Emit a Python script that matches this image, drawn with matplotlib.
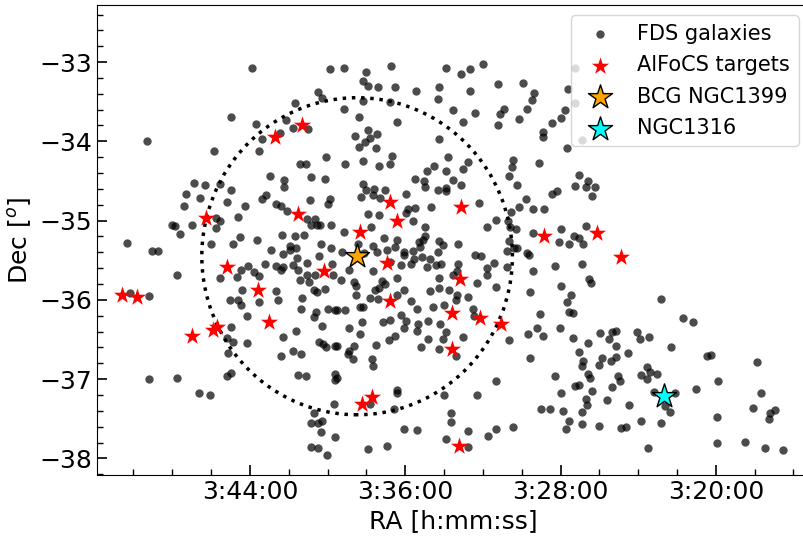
import numpy as np
import matplotlib.pyplot as plt
from matplotlib.patches import Circle
from matplotlib.ticker import MultipleLocator, FuncFormatter

# FDS galaxies (RA, Dec in degrees)
ra_fds = [
    55.97, 54.97, 55.12, 55.07, 55.42, 56.25, 55.54, 55.92, 55.44, 55.25,
    55.61, 55.84, 57.32, 56.46, 55.88, 55.02, 55.35, 55.28, 54.79, 54.51,
    54.18, 53.47, 53.28, 53.17, 53.00, 54.54, 54.48, 54.35, 54.13, 53.86,
    53.56, 53.58, 53.16, 52.80, 52.48, 52.34, 52.37, 52.43, 54.79, 54.54,
    54.20, 54.59, 54.11, 53.39, 53.26, 53.10, 52.73, 52.78, 52.54, 52.80,
    51.94, 52.00, 52.11, 52.22, 52.22, 51.92, 51.90, 54.48, 54.65, 54.37,
    54.45, 54.52, 54.59, 54.38, 53.56, 54.17, 53.45, 54.77, 54.55, 54.34,
    54.20, 53.63, 53.19, 52.61, 52.28, 51.82, 51.82, 51.72, 55.74, 55.56,
    55.56, 55.21, 55.03, 56.72, 56.58, 56.38, 56.25, 56.82, 56.64, 56.85,
    56.30, 56.07, 55.84, 55.79, 55.67, 55.60, 55.52, 55.23, 54.97, 55.00,
    56.44, 56.38, 56.44, 56.15, 57.00, 56.96, 56.75, 56.90, 56.50, 56.22,
    56.13, 55.91, 55.59, 55.42, 55.30, 55.26, 55.16, 55.14, 55.21, 55.10,
    54.95, 57.59, 57.26, 57.18, 55.73, 55.58, 55.49, 55.48, 55.41, 55.39,
    55.09, 54.96, 55.11, 55.80, 55.67, 55.58, 55.60, 55.45, 55.38, 55.27,
    54.94, 56.94, 56.39, 56.17, 56.12, 56.03, 55.95, 55.89, 55.27, 55.36,
    55.24, 55.16, 55.14, 55.17, 55.03, 54.93, 57.55, 57.30, 56.10, 55.66,
    55.64, 56.26, 56.16, 56.12, 55.88, 55.33, 55.34, 55.15, 55.18, 55.00,
    54.90, 56.04, 56.25, 55.07, 55.41, 55.58, 56.29, 56.22, 56.04, 55.11,
    55.06, 55.02, 54.91, 55.45, 55.34, 56.28, 55.60, 56.24, 56.30, 55.38,
    55.28, 54.91, 54.90, 57.30, 56.94, 56.65, 56.52, 54.92, 55.18, 55.22,
    55.13, 55.07, 55.08, 54.91, 55.22, 55.13, 55.01, 53.72, 53.48, 53.25,
    52.62, 53.87, 53.76, 53.75, 53.38, 53.28, 53.58, 53.48, 53.48, 52.66,
    52.56, 54.54, 54.50, 54.40, 54.26, 54.42, 54.33, 54.57, 53.99, 53.67,
    53.88, 53.96, 53.99, 54.48, 54.34, 53.90, 53.05, 52.54, 52.64, 52.45,
    52.35, 52.21, 52.11, 52.04, 51.81, 52.83, 52.95, 52.68, 52.65, 52.57,
    53.74, 54.79, 54.44, 54.28, 54.11, 53.82, 53.74, 53.77, 53.81, 53.56,
    53.52, 53.32, 52.66, 52.60, 52.36, 51.99, 52.02, 51.89, 51.83, 54.61,
    54.42, 54.36, 54.24, 54.13, 54.02, 54.01, 54.81, 54.53, 53.90, 53.78,
    53.58, 53.89, 53.68, 53.10, 53.02, 52.69, 52.56, 52.43, 52.41, 52.86,
    52.69, 53.32, 52.07, 53.93, 53.54, 53.61, 53.72, 54.06, 54.19, 54.72,
    54.83, 54.66, 54.41, 54.10, 53.56, 53.38, 53.33, 52.95, 52.95, 53.08,
    52.36, 51.99, 51.86, 52.39, 52.83, 54.30, 54.26, 54.34, 54.64, 54.64,
    54.39, 54.02, 54.11, 53.68, 53.56, 53.44, 53.33, 53.35, 53.19, 53.93,
    53.64, 53.50, 54.45, 54.35, 54.77, 54.55, 54.58, 54.88, 53.85, 54.05,
    53.13, 53.11, 52.27, 51.92, 51.89, 51.84, 54.56, 54.29, 54.19, 53.99,
    53.83, 53.71, 53.55, 54.73, 54.58, 54.02, 53.85, 53.48, 53.71, 53.51,
    53.26, 54.13, 54.21, 54.38, 54.66, 54.88, 54.72, 54.74, 54.67, 54.43,
    54.41, 53.80, 53.56, 53.34, 52.66, 52.42, 52.30, 52.23, 52.01, 51.84,
    52.39, 52.07, 51.81, 51.99, 52.83, 53.07, 53.50, 54.11, 54.10, 54.88,
    54.46, 54.15, 53.41, 53.41, 52.25, 52.14, 51.97, 51.89, 51.93,
    52.61, 52.83, 52.94, 53.19, 53.19, 53.48, 54.01, 53.85, 54.23, 54.48,
    51.49, 51.34, 51.28, 51.37, 51.02, 50.98, 50.86,
    50.58, 51.64, 51.28, 51.76, 51.13, 51.28, 51.47, 51.35, 51.71, 51.72, 51.50,
    50.12, 50.06, 49.47, 50.88, 50.85, 50.76, 50.97, 50.88, 51.26, 51.24,
    51.64, 51.62, 51.76, 51.34, 51.60, 50.26, 49.97, 49.42, 50.80, 50.53,
    51.67, 51.66, 51.40, 51.12, 50.66, 50.59, 51.72, 49.52, 49.24, 49.30,
    49.31, 49.99, 51.73, 51.50, 51.22, 51.16, 50.97, 50.71, 50.87, 49.98,
    49.63, 49.37, 49.14, 51.76, 51.65, 51.67, 51.55, 51.59, 51.67, 51.76,
    51.71, 51.72, 51.63, 51.61, 50.71, 50.42, 50.30,
]
dec_fds = [
    -33.08, -33.09, -33.38, -33.45, -33.52, -33.69, -33.73, -33.78, -33.83, -33.85,
    -33.90, -33.97, -33.99, -34.12, -34.12, -34.20, -34.28, -34.29, -33.07, -33.12,
    -33.05, -33.08, -33.15, -33.09, -33.03, -33.24, -33.30, -33.32, -33.31, -33.37,
    -33.32, -33.46, -33.37, -33.28, -33.26, -33.39, -33.48, -33.59, -33.59, -33.49,
    -33.50, -33.69, -33.75, -33.61, -33.75, -33.64, -33.59, -33.66, -33.72, -33.80,
    -33.60, -33.70, -33.77, -33.88, -33.94, -34.09, -33.34, -33.86, -33.93, -33.91,
    -33.96, -34.01, -34.07, -34.09, -33.97, -34.19, -34.20, -34.28, -34.25, -34.31,
    -34.29, -34.31, -34.26, -34.23, -34.27, -33.07, -33.52, -33.98, -34.44, -34.49,
    -34.57, -34.45, -34.48, -34.52, -34.55, -34.54, -34.62, -34.67, -34.72, -34.81,
    -34.77, -34.81, -34.73, -34.68, -34.79, -34.82, -34.88, -34.74, -34.73, -34.79,
    -34.97, -35.01, -35.09, -34.96, -35.05, -35.07, -35.05, -35.17, -35.29, -35.30,
    -35.21, -35.25, -35.18, -35.20, -35.18, -34.98, -34.98, -35.05, -35.05, -35.05,
    -35.05, -35.28, -35.38, -35.38, -35.37, -35.42, -35.32, -35.37, -35.35, -35.47,
    -35.30, -35.35, -35.45, -35.55, -35.57, -35.59, -35.62, -35.56, -35.62, -35.54,
    -35.55, -35.69, -35.72, -35.71, -35.62, -35.57, -35.65, -35.70, -35.69, -35.75,
    -35.77, -35.69, -35.90, -35.87, -35.86, -35.69, -35.91, -35.95, -35.88, -35.89,
    -36.00, -36.00, -36.00, -36.06, -36.03, -35.98, -36.11, -36.15, -36.22, -36.11,
    -36.13, -36.20, -36.34, -36.33, -36.39, -36.47, -36.48, -36.53, -36.55, -36.53,
    -36.56, -36.59, -36.58, -36.65, -36.68, -36.67, -36.71, -36.92, -36.96, -36.95,
    -36.96, -36.94, -37.01, -37.00, -36.98, -37.18, -37.20, -37.31, -37.43, -37.55,
    -37.55, -37.53, -37.67, -37.73, -37.86, -37.87, -37.96, -34.38, -34.37, -34.35,
    -34.32, -34.48, -34.50, -34.57, -34.49, -34.55, -34.62, -34.59, -34.63, -34.44,
    -34.55, -34.54, -34.61, -34.60, -34.62, -34.68, -34.72, -34.70, -34.66, -34.83,
    -34.84, -34.86, -34.91, -34.92, -34.93, -35.01, -34.78, -34.83, -34.89, -34.73,
    -34.86, -34.86, -34.67, -34.63, -34.56, -34.99, -35.08, -35.00, -35.08, -35.10,
    -35.08, -35.15, -35.08, -35.22, -35.24, -35.27, -35.20, -35.24, -35.33, -35.26,
    -35.31, -35.29, -35.26, -35.34, -35.16, -35.11, -35.27, -35.29, -35.20, -35.29,
    -35.32, -35.40, -35.37, -35.33, -35.40, -35.43, -35.40, -35.41, -35.38, -35.46,
    -35.40, -35.49, -35.48, -35.43, -35.45, -35.38, -35.34, -35.41, -35.43, -35.53,
    -35.58, -35.55, -35.57, -35.55, -35.55, -35.56, -35.59, -35.56, -35.52, -35.62,
    -35.75, -35.77, -35.63, -35.73, -35.73, -35.69, -35.64, -35.60, -35.69, -35.79,
    -35.63, -35.83, -35.94, -35.90, -35.84, -35.76, -35.80, -35.85, -35.83, -35.94,
    -35.87, -35.87, -35.94, -35.89, -35.85, -35.87, -35.94, -36.00, -35.97, -36.02,
    -36.09, -36.06, -35.98, -35.99, -36.13, -36.09, -36.09, -36.13, -36.11, -36.19,
    -36.11, -36.20, -36.18, -36.03, -36.15, -36.17, -36.28, -36.28, -36.25, -36.27,
    -36.30, -36.27, -36.30, -36.36, -36.43, -36.36, -36.39, -36.41, -36.49, -36.49,
    -36.47, -36.45, -36.51, -36.57, -36.58, -36.58, -36.64, -36.68, -36.75, -36.75,
    -36.83, -36.60, -36.62, -36.71, -36.51, -36.43, -36.36, -36.46, -36.36, -36.48,
    -36.73, -36.96, -37.09, -37.18, -37.02, -37.20, -37.20, -37.14, -37.18, -36.99,
    -37.31, -37.38, -37.43, -37.54, -37.38, -37.38, -37.40, -37.53, -37.63,
    -37.61, -37.63, -37.72, -37.66, -37.86, -37.76, -37.63, -37.64, -37.84, -37.88,
    -36.42, -36.40, -36.39, -36.50, -36.41, -36.49, -36.47,
    -36.60, -36.55, -36.58, -36.66, -36.67, -36.72, -36.73, -36.77, -36.77, -36.83, -36.82,
    -36.71, -36.70, -36.79, -36.85, -36.91, -36.93, -36.95, -37.00, -36.96, -37.03,
    -36.94, -36.98, -37.08, -37.10, -37.15, -37.12, -37.03, -37.17, -37.16, -37.17,
    -37.25, -37.33, -37.26, -37.33, -37.34, -37.42, -37.42, -37.36, -37.39, -37.43,
    -37.50, -37.48, -37.57, -37.59, -37.62, -37.61, -37.53, -37.55, -37.87, -37.81,
    -37.79, -37.87, -37.90, -34.43, -34.50, -34.58, -34.58, -34.69, -35.07, -35.22,
    -35.30, -35.55, -35.74, -35.79, -35.99, -36.23, -36.28,
]

# AlFoCS targets
ra_alfocs = [55.68, 55.33, 56.57, 55.38, 56.30, 55.04, 55.90, 57.65, 57.45, 55.76,
             56.47, 56.43, 56.75, 54.20, 53.28, 54.11, 54.58, 52.21, 54.23, 53.29,
             54.19, 53.40, 53.04, 52.77, 53.40, 54.56, 54.43, 53.31, 51.53, 51.22]
dec_alfocs = [-33.95, -33.79, -34.97, -34.92, -35.59, -35.64, -35.87, -35.94, -35.97, -36.28,
              -36.38, -36.34, -36.46, -34.77, -34.83, -35.00, -35.15, -35.20, -35.53, -35.74,
              -36.02, -36.16, -36.23, -36.30, -36.62, -37.31, -37.23, -37.84, -35.16, -35.46]

ra_bcg, dec_bcg = 54.62, -35.45
ra_n1316, dec_n1316 = 50.67, -37.21
r_circle = 2.0


def ra_hms(x, pos):
    s = int(round(x / 15. * 3600))
    return '%d:%02d:%02d' % (s // 3600, (s % 3600) // 60, s % 60)


fig = plt.figure(figsize=(8.04, 5.36), dpi=100)
ax = fig.add_axes([97 / 804, 61 / 536, 712 / 804, 470 / 536])

ax.scatter(ra_fds, dec_fds, s=36, c='k', alpha=0.7, lw=0, label='FDS galaxies', zorder=2)
ax.add_patch(Circle((ra_bcg, dec_bcg), r_circle, fill=False, ls=':', lw=2.5,
                    color='k', zorder=3))
ax.scatter(ra_alfocs, dec_alfocs, s=170, marker='*', c='red', lw=0,
           label='AlFoCS targets', zorder=4)
ax.scatter(ra_bcg, dec_bcg, s=330, marker='*', c='orange', edgecolors='k', lw=1,
           label='BCG NGC1399', zorder=5)
ax.scatter(ra_n1316, dec_n1316, s=330, marker='*', c='cyan', edgecolors='k', lw=1,
           label='NGC1316', zorder=5)

ax.set_xlim(57.97, 48.80)
ax.set_ylim(-38.21, -32.28)
ax.xaxis.set_major_locator(MultipleLocator(2))
ax.xaxis.set_minor_locator(MultipleLocator(0.5))
ax.xaxis.set_major_formatter(FuncFormatter(ra_hms))
ax.yaxis.set_major_locator(MultipleLocator(1))
ax.yaxis.set_minor_locator(MultipleLocator(0.2))
ax.tick_params(which='both', direction='in', labelsize=18)
ax.tick_params(which='major', length=7, width=1.2)
ax.tick_params(which='minor', length=4, width=1)

ax.set_xlabel('RA [h:mm:ss]', fontsize=18)
ax.set_ylabel('Dec [$^o$]', fontsize=18)
ax.legend(loc='upper right', fontsize=15, labelspacing=0.55)

fig.savefig('out.png', dpi=100)
